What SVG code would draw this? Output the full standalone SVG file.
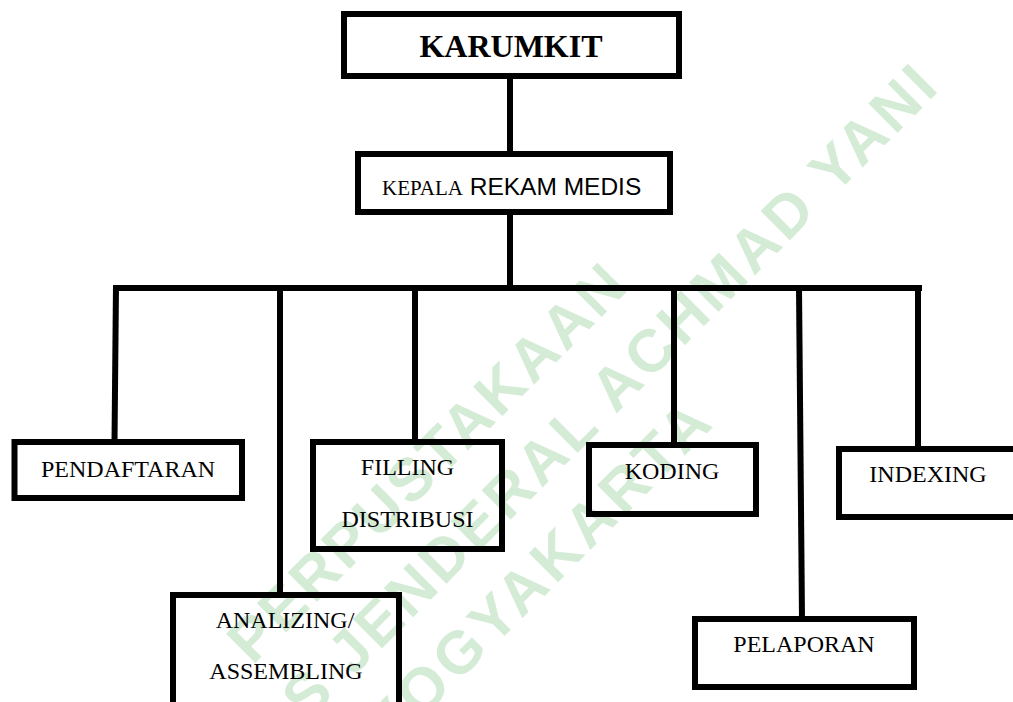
<svg xmlns="http://www.w3.org/2000/svg" width="1013" height="702" viewBox="0 0 1013 702">
<style>
.wm{font-family:"Liberation Sans",Arial,sans-serif;font-weight:bold;font-size:60px;fill:#d4ebd6}
.box{fill:none;stroke:#000;stroke-width:6}
.ln{fill:none;stroke:#000;stroke-width:6}
.t{font-family:"Liberation Serif","Times New Roman",serif;font-size:24px;fill:#000;text-anchor:middle}
</style>
<rect width="1013" height="702" fill="#fff"/>
<g id="watermark" transform="rotate(-45 500 400)">
<text class="wm" x="137" y="413" textLength="533" lengthAdjust="spacing">PERPUSTAKAAN</text>
<text class="wm" x="-262" y="492" textLength="1292" lengthAdjust="spacing">UNIVERSITAS JENDERAL ACHMAD YANI</text>
<text class="wm" x="173" y="570" textLength="460" lengthAdjust="spacing">YOGYAKARTA</text>
</g>
<g id="connectors">
<line class="ln" x1="510" y1="79" x2="510" y2="152"/>
<line class="ln" x1="510" y1="214" x2="510" y2="288"/>
<line class="ln" x1="113" y1="288" x2="922" y2="288"/>
<line class="ln" x1="116" y1="285" x2="114.5" y2="442"/>
<line class="ln" x1="280" y1="288" x2="280" y2="595"/>
<line class="ln" x1="415" y1="288" x2="415" y2="442"/>
<line class="ln" x1="674" y1="288" x2="674" y2="445"/>
<line class="ln" x1="799" y1="288" x2="802" y2="619"/>
<line class="ln" x1="918" y1="290" x2="918" y2="449"/>
</g>
<g id="karumkit">
<rect class="box" x="344" y="14" width="335" height="62"/>
<text x="511" y="57" text-anchor="middle" font-family="Liberation Serif, Times New Roman, serif" font-weight="bold" font-size="32">KARUMKIT</text>
</g>
<g id="kepala">
<rect class="box" x="358" y="154" width="312" height="58"/>
<text x="382" y="195"><tspan font-family="Liberation Serif, Times New Roman, serif" font-size="21">KEPALA</tspan><tspan font-family="Liberation Sans, Arial, sans-serif" font-size="24.5"> REKAM MEDIS</tspan></text>
</g>
<g id="pendaftaran">
<rect class="box" x="14.5" y="442" width="227.5" height="56"/>
<text class="t" x="128" y="477">PENDAFTARAN</text>
</g>
<g id="analizing">
<rect class="box" x="173" y="595" width="226" height="130"/>
<text class="t" x="285" y="628">ANALIZING/</text>
<text class="t" x="286" y="679">ASSEMBLING</text>
</g>
<g id="filling">
<rect class="box" x="313" y="442" width="189" height="107"/>
<text class="t" x="407.5" y="475">FILLING</text>
<text class="t" x="407.5" y="527">DISTRIBUSI</text>
</g>
<g id="koding">
<rect class="box" x="589" y="445" width="167" height="69"/>
<text class="t" x="672" y="479">KODING</text>
</g>
<g id="pelaporan">
<rect class="box" x="695" y="619" width="219" height="68"/>
<text class="t" x="804" y="652">PELAPORAN</text>
</g>
<g id="indexing">
<rect class="box" x="839" y="449" width="200" height="68"/>
<text class="t" x="928" y="482">INDEXING</text>
</g>
</svg>
